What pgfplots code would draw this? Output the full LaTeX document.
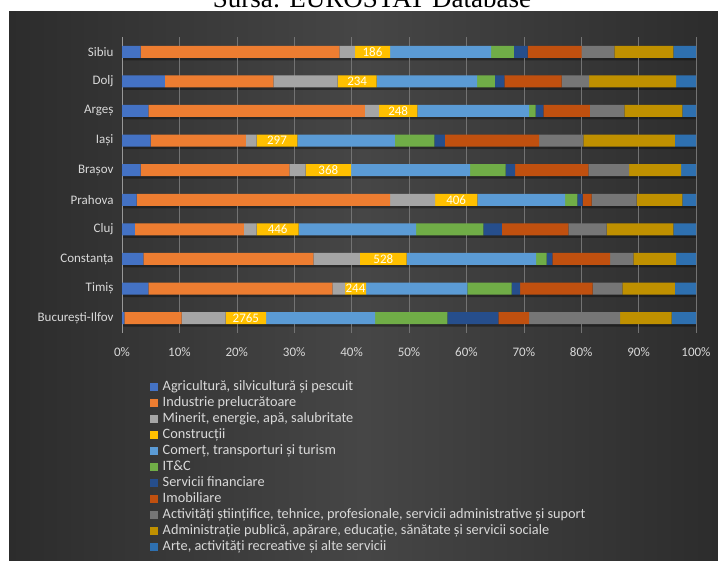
\documentclass[border=0pt]{standalone}
\usepackage{pgfplots}
\usepackage{pgfplotstable}
\pgfplotsset{compat=1.18}
\usepackage{fontspec}
\setmainfont{Carlito}
\newfontfamily\titlefont{Liberation Serif}

\definecolor{cAgri}{HTML}{4472C4}
\definecolor{cInd}{HTML}{ED7D31}
\definecolor{cMin}{HTML}{A5A5A5}
\definecolor{cCon}{HTML}{FFC000}
\definecolor{cCom}{HTML}{5B9BD5}
\definecolor{cIT}{HTML}{70AD47}
\definecolor{cFin}{HTML}{264E8C}
\definecolor{cImo}{HTML}{C0500F}
\definecolor{cAct}{HTML}{767676}
\definecolor{cAdm}{HTML}{BF9000}
\definecolor{cArt}{HTML}{2E70B0}
\definecolor{txt}{HTML}{D9D9D9}
\definecolor{panelEdge}{HTML}{2C2C2C}
\definecolor{panelMid}{HTML}{464646}

% rows from bottom (0) to top (9)
\pgfplotstableread{
idx agri  ind   min   constr com   itc   fin  imob  act   adm   arte tot lbl
0   0.40  10.00 7.67  7.02   18.99 12.59 8.89 5.35  15.85 9.00  4.24 100 2765
1   4.59  32.05 2.21  3.66   17.65 7.73  1.45 12.66 5.16  9.18  3.66 100 244
2   3.72  29.61 8.13  8.14   22.53 1.86  0.98 10.05 4.06  7.44  3.48 100 528
3   2.26  18.99 2.22  7.31   20.44 11.73 3.25 11.56 6.68  11.61 3.95 100 446
4   2.56  44.13 7.84  7.37   15.28 2.14  0.94 1.57  7.84  7.94  2.39 100 406
5   3.26  25.89 2.85  7.90   20.73 6.21  1.63 12.77 7.09  9.06  2.61 100 368
6   5.00  16.60 1.87  7.07   17.02 6.85  1.86 16.38 7.72  15.97 3.66 100 297
7   4.59  37.74 2.44  6.68   19.46 1.16  1.33 8.13  5.98  10.10 2.39 100 248
8   7.49  18.87 11.21 6.80   17.48 3.13  1.63 9.99  4.76  15.16 3.48 100 234
9   3.26  34.60 2.73  6.10   17.60 4.00  2.39 9.41  5.68  10.28 3.95 100 186
}\regions

\begin{document}
\begin{tikzpicture}
\path[use as bounding box] (0pt,0pt) rectangle (718pt,561pt);
\fill[white] (0pt,0pt) rectangle (718pt,561pt);
\shade[left color=panelEdge, right color=panelEdge, middle color=panelMid] (9pt,0pt) rectangle (718pt,549pt);
\node[font=\titlefont\fontsize{27}{29}\selectfont, anchor=base, text=black] at (372pt,553pt) {Sursa: EUROSTAT Database};

% bar shadows
\begin{axis}[
  at={(123pt,225.5pt)}, anchor=south west,
  width=574pt, height=296pt, scale only axis,
  xmin=0, xmax=100, ymin=-0.5, ymax=9.5,
  hide axis, xbar, bar width=12pt,
]
\addplot[fill=black, draw=none, opacity=0.35] table[x=tot, y=idx] {\regions};
\end{axis}

\begin{axis}[
  at={(122pt,228pt)}, anchor=south west,
  width=574pt, height=296pt, scale only axis,
  xbar stacked, bar width=12pt,
  xmin=0, xmax=100, ymin=-0.5, ymax=9.5,
  axis lines*=left,
  x axis line style={draw=none},
  y axis line style={draw=txt!70!black, line width=0.8pt},
  xmajorgrids,
  grid style={draw=white!45!black, line width=0.6pt},
  major tick length=0pt,
  xtick={0,10,...,100},
  xticklabels={0\%,10\%,20\%,30\%,40\%,50\%,60\%,70\%,80\%,90\%,100\%},
  ytick={0,...,9},
  yticklabels={București-Ilfov,Timiș,Constanța,Cluj,Prahova,Brașov,Iași,Argeș,Dolj,Sibiu},
  ticklabel style={font=\fontsize{13}{15}\selectfont, text=txt},
  xticklabel style={yshift=-11pt},
  yticklabel style={xshift=-5pt},
  every axis plot/.append style={draw=none},
  legend cell align=left,
  legend image code/.code={\path (0pt,0pt) (14pt,0pt); \fill[#1] (3pt,-4pt) rectangle (11pt,4pt);},
  legend style={at={(axis description cs:0.0436,-0.155)}, anchor=north west,
    draw=none, fill=none, inner sep=0pt, row sep=0pt,
    font=\fontsize{14.3}{16}\selectfont, text=txt,
    nodes={inner sep=1.5pt, text height=10pt, text depth=3pt}},
]
\addplot[fill=cAgri] table[x=agri, y=idx] {\regions};
\addlegendentry{Agricultură, silvicultură și pescuit}
\addplot[fill=cInd] table[x=ind, y=idx] {\regions};
\addlegendentry{Industrie prelucrătoare}
\addplot[fill=cMin] table[x=min, y=idx] {\regions};
\addlegendentry{Minerit, energie, apă, salubritate}
\addplot[fill=cCon,
  nodes near coords, point meta=explicit symbolic,
  every node near coord/.append style={anchor=center, text=white!92!yellow,
    font=\fontsize{13}{15}\selectfont},
] table[x=constr, y=idx, meta=lbl] {\regions};
\addlegendentry{Construcții}
\addplot[fill=cCom] table[x=com, y=idx] {\regions};
\addlegendentry{Comerț, transporturi și turism}
\addplot[fill=cIT] table[x=itc, y=idx] {\regions};
\addlegendentry{IT\&C}
\addplot[fill=cFin] table[x=fin, y=idx] {\regions};
\addlegendentry{Servicii financiare}
\addplot[fill=cImo] table[x=imob, y=idx] {\regions};
\addlegendentry{Imobiliare}
\addplot[fill=cAct] table[x=act, y=idx] {\regions};
\addlegendentry{Activități științifice, tehnice, profesionale, servicii administrative și suport}
\addplot[fill=cAdm] table[x=adm, y=idx] {\regions};
\addlegendentry{Administrație publică, apărare, educație, sănătate și servicii sociale}
\addplot[fill=cArt] table[x=arte, y=idx] {\regions};
\addlegendentry{Arte, activități recreative și alte servicii}
\end{axis}
\end{tikzpicture}
\end{document}
